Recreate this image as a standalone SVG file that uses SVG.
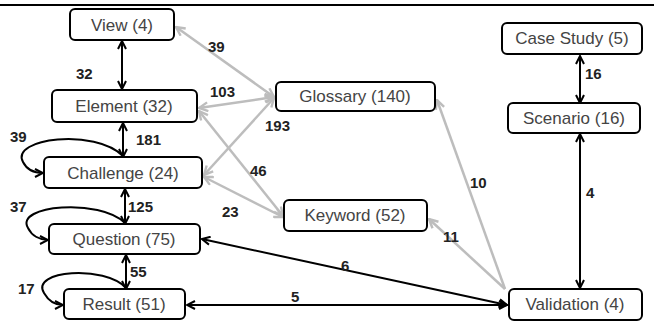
<svg xmlns="http://www.w3.org/2000/svg" width="654" height="322" viewBox="0 0 654 322">
<style>
.box{fill:#fff;stroke:#000;stroke-width:2}
.nt{font-family:"Liberation Sans",Arial,sans-serif;font-size:17px;fill:#444;text-anchor:middle}
.lb{font-family:"Liberation Sans",Arial,sans-serif;font-size:15px;font-weight:bold;fill:#222}
.k{fill:none;stroke:#000;stroke-width:2}
.g{fill:none;stroke:#bdbdbd;stroke-width:2.5}
</style>
<defs>
<marker id="ak" viewBox="0 0 10 10" refX="9" refY="5" markerWidth="10" markerHeight="10" markerUnits="userSpaceOnUse" orient="auto-start-reverse"><path d="M1,1 L9,5 L1,9" fill="none" stroke="#000" stroke-width="2"/></marker>
<marker id="ag" viewBox="0 0 10 10" refX="9" refY="5" markerWidth="11" markerHeight="11" markerUnits="userSpaceOnUse" orient="auto-start-reverse"><path d="M1,1 L9,5 L1,9" fill="none" stroke="#bdbdbd" stroke-width="2.2"/></marker>
</defs>
<rect x="0" width="654" y="0" height="322" fill="#fff"/>
<line x1="0" y1="5" x2="654" y2="5" stroke="#000" stroke-width="2"/>
<g id="connectors">
<line class="g" x1="176" y1="27" x2="274" y2="97" marker-start="url(#ag)" marker-end="url(#ag)"/>
<line class="g" x1="199" y1="108" x2="274" y2="97" marker-start="url(#ag)" marker-end="url(#ag)"/>
<line class="g" x1="204" y1="175" x2="274" y2="98" marker-start="url(#ag)" marker-end="url(#ag)"/>
<line class="g" x1="199" y1="111" x2="283" y2="216" marker-start="url(#ag)" marker-end="url(#ag)"/>
<line class="g" x1="204" y1="177" x2="283" y2="217" marker-start="url(#ag)" marker-end="url(#ag)"/>
<line class="g" x1="505" y1="289" x2="437" y2="100" marker-end="url(#ag)"/>
<line class="g" x1="505" y1="289" x2="429" y2="219" marker-end="url(#ag)"/>
<line class="k" x1="122" y1="41" x2="122" y2="89" marker-start="url(#ak)" marker-end="url(#ak)"/>
<line class="k" x1="123" y1="123" x2="123" y2="157" marker-start="url(#ak)" marker-end="url(#ak)"/>
<line class="k" x1="125" y1="189" x2="125" y2="224" marker-start="url(#ak)" marker-end="url(#ak)"/>
<line class="k" x1="126" y1="255" x2="126" y2="289" marker-start="url(#ak)" marker-end="url(#ak)"/>
<line class="k" x1="580" y1="56" x2="580" y2="103" marker-start="url(#ak)" marker-end="url(#ak)"/>
<line class="k" x1="580" y1="134" x2="580" y2="288" marker-start="url(#ak)" marker-end="url(#ak)"/>
<line class="k" x1="202" y1="239" x2="507" y2="305" marker-start="url(#ak)" marker-end="url(#ak)"/>
<line class="k" x1="187" y1="305" x2="507" y2="305" marker-start="url(#ak)" marker-end="url(#ak)"/>
<path class="k" d="M123,156 C95,128 10,138 23,162 C27,170 35,173 43,173" marker-end="url(#ak)"/>
<path class="k" d="M125,223 C100,198 14,205 28,228 C32,236 40,240 48,240" marker-end="url(#ak)"/>
<path class="k" d="M126,288 C105,265 30,270 44,293 C48,300 55,305 63,305" marker-end="url(#ak)"/>
<text class="lb" x="76" y="79">32</text>
<text class="lb" x="136" y="145">181</text>
<text class="lb" x="10" y="142">39</text>
<text class="lb" x="128" y="212">125</text>
<text class="lb" x="10" y="212">37</text>
<text class="lb" x="130" y="277">55</text>
<text class="lb" x="18" y="294">17</text>
<text class="lb" x="208" y="52">39</text>
<text class="lb" x="210" y="97">103</text>
<text class="lb" x="265" y="131">193</text>
<text class="lb" x="250" y="176">46</text>
<text class="lb" x="222" y="217">23</text>
<text class="lb" x="470" y="188">10</text>
<text class="lb" x="443" y="242">11</text>
<text class="lb" x="341" y="271">6</text>
<text class="lb" x="291" y="302">5</text>
<text class="lb" x="586" y="198">4</text>
<text class="lb" x="585" y="79">16</text>
</g>
<g id="view"><rect class="box" x="70" y="9" width="104" height="31" rx="5"/><text class="nt" x="122" y="31">View (4)</text></g>
<g id="element"><rect class="box" x="52" y="90" width="145" height="32" rx="5"/><text class="nt" x="124" y="112">Element (32)</text></g>
<g id="challenge"><rect class="box" x="44" y="157" width="158" height="31" rx="5"/><text class="nt" x="123" y="179">Challenge (24)</text></g>
<g id="question"><rect class="box" x="49" y="224" width="151" height="30" rx="5"/><text class="nt" x="124" y="245">Question (75)</text></g>
<g id="result"><rect class="box" x="64" y="289" width="121" height="30" rx="5"/><text class="nt" x="124" y="310">Result (51)</text></g>
<g id="glossary"><rect class="box" x="276" y="82" width="159" height="29" rx="5"/><text class="nt" x="355" y="102">Glossary (140)</text></g>
<g id="keyword"><rect class="box" x="284" y="200" width="143" height="31" rx="5"/><text class="nt" x="355" y="221">Keyword (52)</text></g>
<g id="casestudy"><rect class="box" x="502" y="23" width="140" height="31" rx="5"/><text class="nt" x="572" y="44">Case Study (5)</text></g>
<g id="scenario"><rect class="box" x="508" y="103" width="132" height="30" rx="5"/><text class="nt" x="574" y="124">Scenario (16)</text></g>
<g id="validation"><rect class="box" x="509" y="289" width="133" height="31" rx="5"/><text class="nt" x="575" y="310">Validation (4)</text></g>
</svg>
